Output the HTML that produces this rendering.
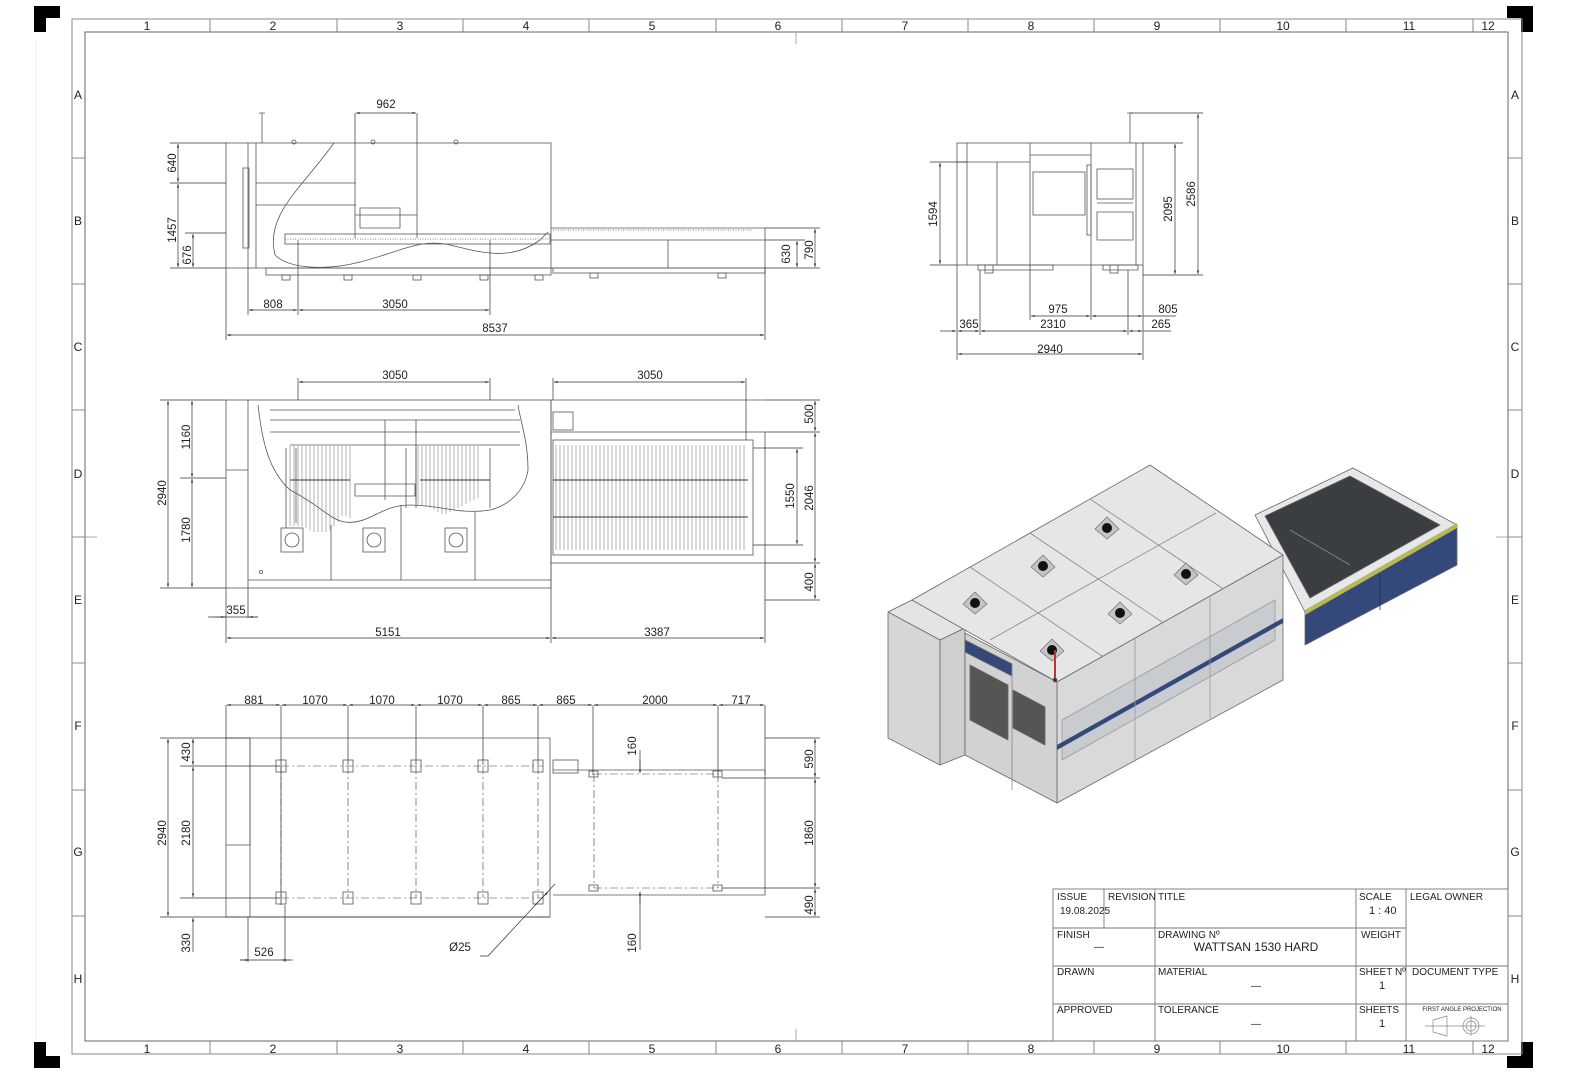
<!DOCTYPE html>
<html><head><meta charset="utf-8"><style>
html,body{margin:0;padding:0;background:#fff}
svg{display:block}
text{font-family:"Liberation Sans",sans-serif;fill:#222}
</style></head><body>
<svg width="1577" height="1080" viewBox="0 0 1577 1080" xmlns="http://www.w3.org/2000/svg">
<defs>
<marker id="a" viewBox="0 0 10 10" refX="10" refY="5" markerWidth="7" markerHeight="5" orient="auto-start-reverse"><path d="M0,2 L10,5 L0,8z" fill="#222"/></marker>
</defs>
<rect width="1577" height="1080" fill="#fff"/>
<!-- corner marks -->
<path d="M34,6h26v12h-14v14h-12z" fill="#000"/>
<path d="M1533,6h-26v12h14v14h12z" fill="#000"/>
<path d="M34,1068h26v-12h-14v-14h-12z" fill="#000"/>
<path d="M1533,1068h-26v-12h14v-14h12z" fill="#000"/>
<line x1="36" y1="40" x2="36" y2="1040" stroke="#eee"/>
<!-- frame -->
<g fill="none" stroke="#888" stroke-width="1">
<rect x="72" y="19" width="1450" height="1035"/>
<rect x="85" y="32" width="1423" height="1009" stroke="#666"/>
<path d="M210,19v13M337,19v13M463,19v13M589,19v13M716,19v13M842,19v13M968,19v13M1094,19v13M1220,19v13M1346,19v13M1473,19v13"/>
<path d="M210,1041v13M337,1041v13M463,1041v13M589,1041v13M716,1041v13M842,1041v13M968,1041v13M1094,1041v13M1220,1041v13M1346,1041v13M1473,1041v13"/>
<path d="M72,158h13M72,284h13M72,410h13M72,537h13M72,663h13M72,790h13M72,916h13"/>
<path d="M1508,158h14M1508,284h14M1508,410h14M1508,537h14M1508,663h14M1508,790h14M1508,916h14"/>
<path d="M796,32v12M796,1029v12M85,537h12M1496,537h12" stroke="#aaa"/>
</g>
<g font-size="12" text-anchor="middle">
<text x="147" y="30">1</text><text x="273" y="30">2</text><text x="400" y="30">3</text><text x="526" y="30">4</text><text x="652" y="30">5</text><text x="778" y="30">6</text><text x="905" y="30">7</text><text x="1031" y="30">8</text><text x="1157" y="30">9</text><text x="1283" y="30">10</text><text x="1409" y="30">11</text><text x="1488" y="30">12</text>
<text x="147" y="1053">1</text><text x="273" y="1053">2</text><text x="400" y="1053">3</text><text x="526" y="1053">4</text><text x="652" y="1053">5</text><text x="778" y="1053">6</text><text x="905" y="1053">7</text><text x="1031" y="1053">8</text><text x="1157" y="1053">9</text><text x="1283" y="1053">10</text><text x="1409" y="1053">11</text><text x="1488" y="1053">12</text>
<text x="78" y="99">A</text><text x="78" y="225">B</text><text x="78" y="351">C</text><text x="78" y="478">D</text><text x="78" y="604">E</text><text x="78" y="730">F</text><text x="78" y="856">G</text><text x="78" y="983">H</text>
<text x="1515" y="99">A</text><text x="1515" y="225">B</text><text x="1515" y="351">C</text><text x="1515" y="478">D</text><text x="1515" y="604">E</text><text x="1515" y="730">F</text><text x="1515" y="856">G</text><text x="1515" y="983">H</text>
</g>

<!-- ===== SIDE VIEW ===== -->
<g fill="none" stroke="#555" stroke-width="0.8">
<rect x="226" y="143" width="325" height="125"/>
<line x1="248" y1="143" x2="248" y2="268"/><line x1="256" y1="143" x2="256" y2="268"/>
<rect x="243" y="168" width="6" height="80"/>
<path d="M334,143 C300,190 265,215 275,255 C290,270 330,270 360,262 C400,252 420,238 450,245 C480,252 510,262 540,240 L548,232"/>
<path d="M256,183h100M256,205h100"/>
<path d="M355,143v95M417,143v95M355,215h62M360,208h40v20h-40z"/>
<rect x="285" y="234" width="265" height="10"/>
<path d="M285,239h265" stroke-dasharray="1 1.5"/>
<rect x="266" y="268" width="285" height="7"/>
<path d="M551,228h214M551,240h214M551,268h214M765,228v40M668,240v28" />
<path d="M553,230h200" stroke-dasharray="1 1.5"/>
<rect x="553" y="268" width="212" height="5"/>
<rect x="282" y="275" width="8" height="5"/><rect x="344" y="275" width="8" height="5"/><rect x="413" y="275" width="8" height="5"/><rect x="480" y="275" width="8" height="5"/><rect x="535" y="275" width="8" height="5"/><rect x="590" y="273" width="8" height="5"/><rect x="718" y="273" width="8" height="5"/>
<path d="M262,113v30M259,113h6"/>
<circle cx="294" cy="142" r="2"/><circle cx="373" cy="142" r="2"/><circle cx="456" cy="142" r="2"/>
</g>
<g stroke="#333" stroke-width="0.7" fill="none">
<path d="M355,113v30M417,113v30"/><line x1="356" y1="113" x2="416" y2="113" marker-start="url(#a)" marker-end="url(#a)"/>
<path d="M170,143h56M170,183h56M185,233h41M170,268h56"/>
<line x1="178" y1="144" x2="178" y2="182" marker-start="url(#a)" marker-end="url(#a)"/>
<line x1="178" y1="184" x2="178" y2="267" marker-start="url(#a)" marker-end="url(#a)"/>
<line x1="193" y1="234" x2="193" y2="267" marker-start="url(#a)" marker-end="url(#a)"/>
<path d="M765,228h55M765,240h40M765,268h55"/>
<line x1="797" y1="241" x2="797" y2="267" marker-start="url(#a)" marker-end="url(#a)"/>
<line x1="815" y1="229" x2="815" y2="267" marker-start="url(#a)" marker-end="url(#a)"/>
<path d="M248,268v47M298,240v75M490,240v75M226,268v72M765,268v72"/>
<line x1="249" y1="310" x2="297" y2="310" marker-start="url(#a)" marker-end="url(#a)"/>
<line x1="299" y1="310" x2="489" y2="310" marker-start="url(#a)" marker-end="url(#a)"/>
<line x1="227" y1="335" x2="764" y2="335" marker-start="url(#a)" marker-end="url(#a)"/>
</g>
<g font-size="11.5" text-anchor="middle">
<text x="386" y="108">962</text><text x="273" y="308">808</text><text x="395" y="308">3050</text><text x="495" y="332">8537</text>
<text transform="translate(176,163) rotate(-90)">640</text>
<text transform="translate(176,230) rotate(-90)">1457</text>
<text transform="translate(191,255) rotate(-90)">676</text>
<text transform="translate(790,254) rotate(-90)">630</text>
<text transform="translate(813,250) rotate(-90)">790</text>
</g>

<!-- ===== TOP VIEW ===== -->
<g fill="none" stroke="#555" stroke-width="0.8">
<rect x="226" y="400" width="325" height="188"/>
<path d="M248,400v188M226,470h22"/>
<path d="M258,405 C262,440 268,470 290,490 C320,505 330,520 345,522 C370,525 380,505 410,505 C440,505 460,515 490,510 C510,505 525,490 528,470 C528,440 520,420 518,405"/>
<path d="M270,410h245M270,420h250M270,432h250M290,445h230"/>
<path d="M286,448v80M296,448v75M406,448v60M416,448v60M490,448v60"/>
<path d="M385,420v80M416,420v80M355,484h60v12h-60z"/>
<path d="M331,525v55M401,505v75M475,512v68M248,580h303"/>
<rect x="281" y="528" width="22" height="24"/><rect x="363" y="528" width="22" height="24"/><rect x="445" y="528" width="22" height="24"/>
<circle cx="292" cy="540" r="7"/><circle cx="374" cy="540" r="7"/><circle cx="456" cy="540" r="7"/>
<circle cx="261" cy="572" r="1.5"/>
<rect x="551" y="432" width="214" height="131"/>
<rect x="553" y="440" width="200" height="115"/>
<rect x="553" y="412" width="20" height="18"/>
<path d="M551,400h214M551,400v188"/>
</g>
<g stroke="#666" stroke-width="0.5">
<path d="M290,446v80M294,446v80M298,446v80M302,446v80M306,446v82M310,446v84M314,446v86M318,446v86M322,446v86M326,446v86M330,446v84M334,446v80M338,446v76M342,446v70M346,446v70M350,446v72M418,446v60M422,446v60M426,446v60M430,446v62M434,446v64M438,446v66M442,446v68M446,446v68M450,446v66M454,446v64M458,446v62M462,446v60M466,446v58M470,446v56M474,446v54M478,446v52"/>
<path d="M556,445v105M560,445v105M564,445v105M568,445v105M572,445v105M576,445v105M580,445v105M584,445v105M588,445v105M592,445v105M596,445v105M600,445v105M604,445v105M608,445v105M612,445v105M616,445v105M620,445v105M624,445v105M628,445v105M632,445v105M636,445v105M640,445v105M644,445v105M648,445v105M652,445v105M656,445v105M660,445v105M664,445v105M668,445v105M672,445v105M676,445v105M680,445v105M684,445v105M688,445v105M692,445v105M696,445v105M700,445v105M704,445v105M708,445v105M712,445v105M716,445v105M720,445v105M724,445v105M728,445v105M732,445v105M736,445v105M740,445v105M744,445v105"/>
<path d="M553,480h195M553,517h195M290,480h60M420,480h70" stroke="#333" stroke-width="1"/>
</g>
<g stroke="#333" stroke-width="0.7" fill="none">
<path d="M298,378v22M490,378v22M553,378v22M746,378v62"/>
<line x1="299" y1="382" x2="489" y2="382" marker-start="url(#a)" marker-end="url(#a)"/>
<line x1="554" y1="382" x2="745" y2="382" marker-start="url(#a)" marker-end="url(#a)"/>
<path d="M160,400h66M180,478h46M160,588h66M765,400h55M765,432h55M753,448h50M753,545h50M765,563h55M765,600h55"/>
<line x1="168" y1="401" x2="168" y2="587" marker-start="url(#a)" marker-end="url(#a)"/>
<line x1="192" y1="401" x2="192" y2="477" marker-start="url(#a)" marker-end="url(#a)"/>
<line x1="192" y1="479" x2="192" y2="587" marker-start="url(#a)" marker-end="url(#a)"/>
<line x1="815" y1="401" x2="815" y2="431" marker-start="url(#a)" marker-end="url(#a)"/>
<line x1="797" y1="449" x2="797" y2="544" marker-start="url(#a)" marker-end="url(#a)"/>
<line x1="815" y1="433" x2="815" y2="562" marker-start="url(#a)" marker-end="url(#a)"/>
<line x1="815" y1="564" x2="815" y2="599" marker-start="url(#a)" marker-end="url(#a)"/>
<path d="M226,588v55M248,588v30M551,588v55M765,563v80M208,617h50"/>
<line x1="215" y1="617" x2="225" y2="617" marker-end="url(#a)"/><line x1="258" y1="617" x2="249" y2="617" marker-end="url(#a)"/>
<line x1="227" y1="638" x2="550" y2="638" marker-start="url(#a)" marker-end="url(#a)"/>
<line x1="552" y1="638" x2="764" y2="638" marker-start="url(#a)" marker-end="url(#a)"/>
</g>
<g font-size="11.5" text-anchor="middle">
<text x="395" y="379">3050</text><text x="650" y="379">3050</text>
<text x="236" y="614">355</text><text x="388" y="636">5151</text><text x="657" y="636">3387</text>
<text transform="translate(166,493) rotate(-90)">2940</text>
<text transform="translate(190,437) rotate(-90)">1160</text>
<text transform="translate(190,530) rotate(-90)">1780</text>
<text transform="translate(813,414) rotate(-90)">500</text>
<text transform="translate(794,496) rotate(-90)">1550</text>
<text transform="translate(813,498) rotate(-90)">2046</text>
<text transform="translate(813,582) rotate(-90)">400</text>
</g>

<!-- ===== FOUNDATION VIEW ===== -->
<g fill="none" stroke="#555" stroke-width="0.8">
<path d="M250,738h300v179h-300z"/>
<path d="M226,738h24v107h-24z"/>
<path d="M226,845v72h24"/>
<path d="M553,770h212v125h-212"/>
<rect x="553" y="760" width="25" height="13"/>
<rect x="276" y="760" width="10" height="12"/><rect x="343" y="760" width="10" height="12"/><rect x="411" y="760" width="10" height="12"/><rect x="478" y="760" width="10" height="12"/><rect x="533" y="760" width="10" height="12"/>
<rect x="276" y="892" width="10" height="12"/><rect x="343" y="892" width="10" height="12"/><rect x="411" y="892" width="10" height="12"/><rect x="478" y="892" width="10" height="12"/><rect x="533" y="892" width="10" height="12"/>
<rect x="589" y="771" width="9" height="6"/><rect x="713" y="771" width="9" height="6"/><rect x="589" y="885" width="9" height="6"/><rect x="713" y="885" width="9" height="6"/>
</g>
<g stroke="#444" stroke-width="0.6" fill="none" stroke-dasharray="8 3 2 3">
<path d="M281,766h262M281,898h262M281,766v132M348,766v132M416,766v132M483,766v132M538,766v132"/>
<path d="M594,774h124M594,888h124M594,774v114M718,774v114"/>
</g>
<g stroke="#333" stroke-width="0.7" fill="none">
<path d="M226,705v33M281,705v200M348,705v60M416,705v60M483,705v60M538,705v60M593,705v70M718,705v70M765,705v70"/>
<line x1="227" y1="705" x2="280" y2="705" marker-start="url(#a)" marker-end="url(#a)"/>
<line x1="282" y1="705" x2="347" y2="705" marker-start="url(#a)" marker-end="url(#a)"/>
<line x1="349" y1="705" x2="415" y2="705" marker-start="url(#a)" marker-end="url(#a)"/>
<line x1="417" y1="705" x2="482" y2="705" marker-start="url(#a)" marker-end="url(#a)"/>
<line x1="484" y1="705" x2="537" y2="705" marker-start="url(#a)" marker-end="url(#a)"/>
<line x1="539" y1="705" x2="592" y2="705" marker-start="url(#a)" marker-end="url(#a)"/>
<line x1="594" y1="705" x2="717" y2="705" marker-start="url(#a)" marker-end="url(#a)"/>
<line x1="719" y1="705" x2="764" y2="705" marker-start="url(#a)" marker-end="url(#a)"/>
<path d="M160,738h90M180,766h100M180,898h100M160,917h390M765,738h55M722,778h98M722,888h98M765,917h55"/>
<line x1="168" y1="739" x2="168" y2="916" marker-start="url(#a)" marker-end="url(#a)"/>
<line x1="193" y1="739" x2="193" y2="765" marker-start="url(#a)" marker-end="url(#a)"/>
<line x1="193" y1="767" x2="193" y2="897" marker-start="url(#a)" marker-end="url(#a)"/>
<line x1="193" y1="930" x2="193" y2="918" marker-end="url(#a)"/><path d="M193,930v22"/>
<line x1="815" y1="739" x2="815" y2="777" marker-start="url(#a)" marker-end="url(#a)"/>
<line x1="815" y1="779" x2="815" y2="887" marker-start="url(#a)" marker-end="url(#a)"/>
<line x1="815" y1="889" x2="815" y2="916" marker-start="url(#a)" marker-end="url(#a)"/>
<path d="M640,750v20M640,895v55"/>
<line x1="640" y1="760" x2="640" y2="773" marker-end="url(#a)"/><line x1="640" y1="905" x2="640" y2="892" marker-end="url(#a)"/>
<path d="M248,917v45M285,905v57M240,960h50"/>
<line x1="240" y1="960" x2="249" y2="960" marker-end="url(#a)"/><line x1="293" y1="960" x2="282" y2="960" marker-end="url(#a)"/>
<path d="M480,956h8L555,884"/>
<line x1="535" y1="905" x2="548" y2="892" marker-end="url(#a)"/>
</g>
<g font-size="11.5" text-anchor="middle">
<text x="254" y="704">881</text><text x="315" y="704">1070</text><text x="382" y="704">1070</text><text x="450" y="704">1070</text><text x="511" y="704">865</text><text x="566" y="704">865</text><text x="655" y="704">2000</text><text x="741" y="704">717</text>
<text transform="translate(166,833) rotate(-90)">2940</text>
<text transform="translate(190,752) rotate(-90)">430</text>
<text transform="translate(190,833) rotate(-90)">2180</text>
<text transform="translate(190,943) rotate(-90)">330</text>
<text transform="translate(813,759) rotate(-90)">590</text>
<text transform="translate(813,833) rotate(-90)">1860</text>
<text transform="translate(813,905) rotate(-90)">490</text>
<text transform="translate(636,746) rotate(-90)">160</text>
<text transform="translate(636,943) rotate(-90)">160</text>
<text x="264" y="956">526</text><text x="460" y="951">Ø25</text>
</g>

<!-- ===== FRONT VIEW ===== -->
<g fill="none" stroke="#555" stroke-width="0.8">
<rect x="957" y="143" width="186" height="122"/>
<path d="M967,143v122M1030,143v122M1091,143v122M1136,143v122M957,162h73M997,162v103M1030,155h61"/>
<rect x="1033" y="172" width="52" height="43"/>
<rect x="1097" y="169" width="36" height="30"/>
<path d="M1097,203h36M1097,212h36v28h-36z"/>
<rect x="1087" y="165" width="4" height="70"/>
<path d="M978,265h75v5h-75zM1103,265h35v5h-35z"/>
<rect x="985" y="265" width="8" height="8"/><rect x="1110" y="265" width="8" height="8"/>
<path d="M1130,113v30M1127,113h6"/>
</g>
<g stroke="#333" stroke-width="0.7" fill="none">
<path d="M930,162h37M930,265h27M1143,143h40M1143,275h60M1130,113h73"/>
<line x1="940" y1="163" x2="940" y2="264" marker-start="url(#a)" marker-end="url(#a)"/>
<line x1="1175" y1="144" x2="1175" y2="274" marker-start="url(#a)" marker-end="url(#a)"/>
<line x1="1198" y1="114" x2="1198" y2="274" marker-start="url(#a)" marker-end="url(#a)"/>
<path d="M1030,265v55M1091,265v55M957,265v95M980,270v65M1128,270v65M1143,265v95"/>
<line x1="1031" y1="316" x2="1090" y2="316" marker-start="url(#a)" marker-end="url(#a)"/>
<line x1="1092" y1="316" x2="1142" y2="316" marker-start="url(#a)" marker-end="url(#a)"/><path d="M1143,316h33"/>
<line x1="940" y1="331" x2="956" y2="331" marker-end="url(#a)"/>
<line x1="958" y1="331" x2="979" y2="331" marker-start="url(#a)" marker-end="url(#a)"/>
<line x1="981" y1="331" x2="1127" y2="331" marker-start="url(#a)" marker-end="url(#a)"/>
<line x1="1129" y1="331" x2="1142" y2="331" marker-start="url(#a)" marker-end="url(#a)"/><path d="M1143,331h28"/>
<line x1="958" y1="354" x2="1142" y2="354" marker-start="url(#a)" marker-end="url(#a)"/>
</g>
<g font-size="11.5" text-anchor="middle">
<text x="1058" y="313">975</text><text x="1168" y="313">805</text>
<text x="969" y="328">365</text><text x="1053" y="328">2310</text><text x="1161" y="328">265</text>
<text x="1050" y="353">2940</text>
<text transform="translate(937,214) rotate(-90)">1594</text>
<text transform="translate(1172,209) rotate(-90)">2095</text>
<text transform="translate(1195,194) rotate(-90)">2586</text>
</g>

<!-- ===== ISOMETRIC ===== -->
<g stroke="#666" stroke-width="0.8" stroke-linejoin="round">
<!-- table -->
<polygon points="1255,515 1353,468 1457,525 1305,612" fill="#e8e8e8"/>
<polygon points="1265,516 1350,476 1440,525 1310,598" fill="#3a3d42"/>
<polygon points="1305,612 1457,525 1457,565 1305,645" fill="#35487a"/>
<polygon points="1305,610 1457,523 1457,528 1305,615" fill="#b7b85a" stroke="none"/>
<line x1="1290" y1="530" x2="1350" y2="565" stroke="#888"/>
<line x1="1380" y1="575" x2="1380" y2="610" stroke="#1f2e55"/>
<!-- left cabinet -->
<polygon points="888,612 912,600 965,628 940,640" fill="#e4e4e4"/>
<polygon points="888,612 940,640 940,765 888,738" fill="#d6d6d6"/>
<polygon points="940,640 965,628 965,755 940,765" fill="#cfcfcf"/>
<!-- main box -->
<polygon points="912,600 1150,465 1283,555 1057,682" fill="#e6e6e6"/>
<polygon points="1057,682 1283,555 1283,680 1057,803" fill="#d9d9d9"/>
<polygon points="965,633 1057,682 1057,803 965,755" fill="#d2d2d2"/>
<!-- front face details -->
<polygon points="965,640 1012,664 1012,676 965,652" fill="#35487a"/>
<polygon points="970,665 1008,685 1008,740 970,720" fill="#555"/>
<polygon points="1013,690 1045,707 1045,745 1013,728" fill="#555"/>
<line x1="1012" y1="664" x2="1012" y2="790" stroke="#888"/>
<!-- windows & stripe -->
<polygon points="1062,720 1275,600 1275,640 1062,760" fill="#c8ccd0" stroke="#999"/>
<polygon points="1057,745 1283,618 1283,623 1057,750" fill="#35487a" stroke="none"/>
<line x1="1135" y1="638" x2="1135" y2="760" stroke="#999"/>
<line x1="1210" y1="596" x2="1210" y2="718" stroke="#999"/>
<!-- roof panels -->
<g fill="none" stroke="#888">
<line x1="970" y1="567" x2="1102" y2="656"/>
<line x1="1030" y1="533" x2="1162" y2="622"/>
<line x1="1090" y1="499" x2="1222" y2="588"/>
<line x1="990" y1="640" x2="1216" y2="513"/>
</g>
<!-- fans -->
<g fill="#c4c4c4" stroke="#777">
<polygon points="975,592 987,604 975,614 963,604"/>
<polygon points="1043,555 1055,567 1043,577 1031,567"/>
<polygon points="1107,517 1119,529 1107,539 1095,529"/>
<polygon points="1120,602 1132,614 1120,624 1108,614"/>
<polygon points="1186,563 1198,575 1186,585 1174,575"/>
<polygon points="1052,639 1064,651 1052,661 1040,651"/>
</g>
<g fill="#111" stroke="none">
<circle cx="975" cy="603" r="5"/><circle cx="1043" cy="566" r="5"/><circle cx="1107" cy="528" r="5"/><circle cx="1120" cy="613" r="5"/><circle cx="1186" cy="574" r="5"/><circle cx="1052" cy="650" r="5"/>
</g>
<line x1="1055" y1="650" x2="1055" y2="678" stroke="#b33" stroke-width="2"/>
<circle cx="1055" cy="680" r="2" fill="#333"/>
</g>

<!-- ===== TITLE BLOCK ===== -->
<g fill="none" stroke="#777" stroke-width="0.9">
<rect x="1053" y="889" width="455" height="152"/>
<path d="M1053,928h353M1053,966h455M1053,1004h455M1104,889v39M1155,889v152M1356,889v152M1406,889v152"/>
</g>
<g font-size="10">
<text x="1057" y="900">ISSUE</text><text x="1060" y="914">19.08.2025</text>
<text x="1108" y="900">REVISION</text><text x="1158" y="900">TITLE</text>
<text x="1359" y="900">SCALE</text><text x="1369" y="914" font-size="11">1 : 40</text>
<text x="1410" y="900">LEGAL OWNER</text>
<text x="1057" y="938">FINISH</text><text x="1099" y="950" text-anchor="middle">—</text>
<text x="1158" y="938">DRAWING Nº</text><text x="1256" y="951" font-size="12" text-anchor="middle">WATTSAN 1530 HARD</text>
<text x="1361" y="938">WEIGHT</text>
<text x="1057" y="975">DRAWN</text><text x="1158" y="975">MATERIAL</text><text x="1256" y="989" text-anchor="middle">—</text>
<text x="1359" y="975">SHEET Nº</text><text x="1382" y="989" font-size="11" text-anchor="middle">1</text>
<text x="1412" y="975">DOCUMENT TYPE</text>
<text x="1057" y="1013">APPROVED</text><text x="1158" y="1013">TOLERANCE</text><text x="1256" y="1027" text-anchor="middle">—</text>
<text x="1359" y="1013">SHEETS</text><text x="1382" y="1027" font-size="11" text-anchor="middle">1</text>
<text x="1462" y="1011" font-size="6" text-anchor="middle">FIRST ANGLE PROJECTION</text>
</g>
<g fill="none" stroke="#888" stroke-width="0.7">
<path d="M1433,1020l14,-4v20l-14,-4z"/><path d="M1425,1026h60"/>
<circle cx="1471" cy="1026" r="8"/><circle cx="1471" cy="1026" r="5"/><path d="M1471,1016v20"/>
</g>
</svg>
</body></html>
